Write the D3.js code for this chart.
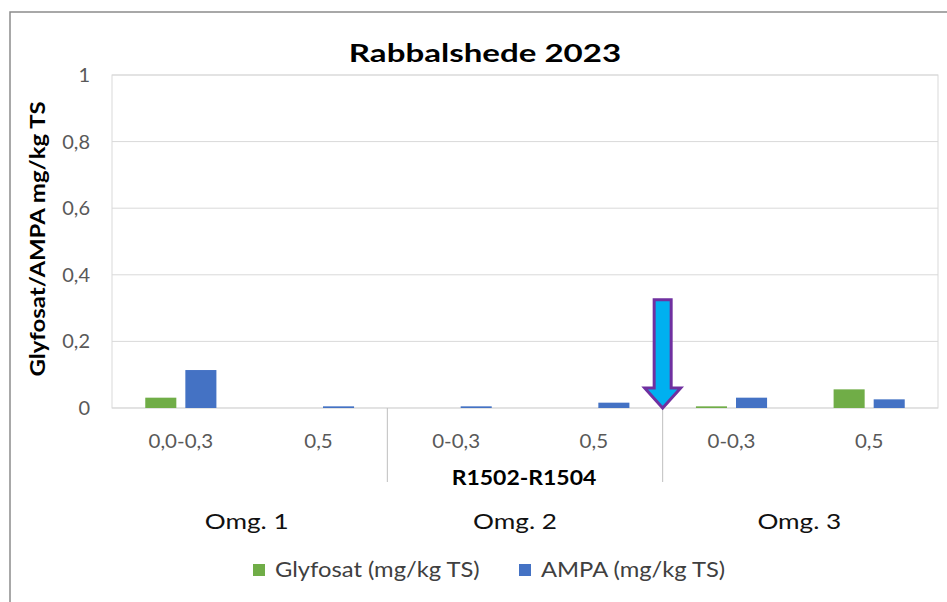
<!DOCTYPE html>
<html>
<head>
<meta charset="utf-8">
<script src="https://cdn.jsdelivr.net/npm/d3@7"></script>
<style>
  html, body { margin: 0; padding: 0; background: #fff; }
  svg { display: block; font-family: Lato, "Open Sans", sans-serif; }
</style>
</head>
<body>
<svg id="chart" width="947" height="602"></svg>
<script>
// data
const categories = ["0,0-0,3", "0,5", "0-0,3", "0,5", "0-0,3", "0,5"];
const groups     = ["Omg. 1", "Omg. 2", "Omg. 3"];
const midLabel   = "R1502-R1504";
const series     = ["Glyfosat (mg/kg TS)", "AMPA (mg/kg TS)"];
const glyfosat   = [0.031, 0, 0, 0, 0.005, 0.056];
const ampa       = [0.114, 0.005, 0.005, 0.016, 0.031, 0.026];
const yTicks     = [0, 0.2, 0.4, 0.6, 0.8, 1];
const colors     = ["#70AD47", "#4472C4"];

const svg = d3.select("#chart");
const plot = { left: 112, right: 938, top: 75, bottom: 408 };

// the source picture is a bit wide, so horizontal text gets a small stretch
function label(parent, x, y, str, size, sx, opts = {}) {
  return parent.append("text")
    .attr("transform", `translate(${x},${y}) scale(${sx},1)`)
    .attr("text-anchor", opts.anchor || "middle")
    .attr("font-size", size)
    .attr("font-weight", opts.bold ? "bold" : null)
    .attr("fill", opts.fill || "#000")
    .text(str);
}

// outer frame (cropped on the right and bottom)
svg.append("path")
  .attr("d", "M10,602V12H947")
  .attr("fill", "none").attr("stroke", "#8c8c8c").attr("stroke-width", 1.5);

// 1) scales
const idx = d3.range(categories.length);
const x0 = d3.scaleBand().domain(idx).range([plot.left, plot.right]);
const x1 = d3.scaleBand().domain([0, 1]).range([0, x0.bandwidth()])
  .paddingInner(0.225).paddingOuter(0.83);
const y = d3.scaleLinear().domain([0, 1]).range([plot.bottom, plot.top]);

// 2) grid + plot border
svg.append("g").selectAll("line").data(yTicks).join("line")
  .attr("x1", plot.left).attr("x2", plot.right)
  .attr("y1", d => y(d)).attr("y2", d => y(d))
  .attr("stroke", "#d9d9d9").attr("stroke-width", 1);
svg.append("rect")
  .attr("x", plot.left).attr("y", plot.top)
  .attr("width", plot.right - plot.left).attr("height", plot.bottom - plot.top)
  .attr("fill", "none").attr("stroke", "#d9d9d9");

// y axis labels
const yAxis = d3.axisLeft(y).tickValues(yTicks).tickSize(0).tickPadding(0)
  .tickFormat(d => String(d).replace(".", ","));
svg.append("g").attr("transform", `translate(${plot.left - 22},0)`)
  .call(yAxis)
  .call(g => g.select(".domain").remove())
  .selectAll("text")
    .attr("fill", "#595959").attr("font-size", 20)
    .attr("font-family", "Lato, sans-serif");

// 3) bars
const values = [glyfosat, ampa];
const bars = svg.append("g");
values.forEach((vals, s) => {
  bars.selectAll(null).data(idx).join("rect")
    .attr("x", i => x0(i) + x1(s))
    .attr("width", x1.bandwidth())
    .attr("y", i => y(vals[i]))
    .attr("height", i => y(0) - y(vals[i]))
    .attr("fill", colors[s]);
});

// x axis category labels
const xAxis = d3.axisBottom(x0).tickSize(0).tickPadding(0)
  .tickFormat(i => categories[i]);
svg.append("g").attr("transform", `translate(0,${plot.bottom + 40})`)
  .call(xAxis)
  .call(g => g.select(".domain").remove())
  .selectAll("text")
    .attr("y", 0).attr("dy", 0)
    .attr("transform", "scale(1.08,1)")
    .attr("fill", "#595959").attr("font-size", 19)
    .attr("font-family", "Lato, sans-serif");

// group separators between pairs
const seps = [2, 4];
svg.append("g").selectAll("line").data(seps).join("line")
  .attr("x1", i => x0(i)).attr("x2", i => x0(i))
  .attr("y1", plot.bottom).attr("y2", plot.bottom + 74)
  .attr("stroke", "#bfbfbf").attr("stroke-width", 1);

label(svg, (plot.left + plot.right) / 2 - 1, plot.bottom + 77, midLabel, 20.5, 1.12, { bold: true });

// Omg. labels, roughly under each pair
const labelNudge = [-3, -10, -1];
groups.forEach((name, g) => {
  const cx = (x0(g * 2) + x0(g * 2 + 1) + x0.bandwidth()) / 2 + labelNudge[g];
  label(svg, cx, plot.bottom + 121, name, 22, 1.19, { fill: "#111" });
});

// 4) arrow marking the boundary between Omg. 2 and Omg. 3
const ax = x0(4), tipY = y(0), topY = y(0.325), headY = y(0.06);
svg.append("path")
  .attr("d", `M${ax - 8.5},${topY}H${ax + 8.5}V${headY}H${ax + 18}L${ax},${tipY}L${ax - 18},${headY}H${ax - 8.5}Z`)
  .attr("fill", "#00B0F0").attr("stroke", "#7030A0").attr("stroke-width", 3)
  .attr("stroke-linejoin", "miter");

// title
label(svg, 485, 62, "Rabbalshede 2023", 24.5, 1.35, { bold: true });

// y axis title
svg.append("text")
  .attr("transform", "translate(45,239) rotate(-90) scale(1.14,1)")
  .attr("text-anchor", "middle").attr("font-size", 21).attr("font-weight", "bold")
  .attr("fill", "#000").text("Glyfosat/AMPA mg/kg TS");

// 5) legend
const legend = svg.append("g").attr("transform", "translate(253,577)");
const legendX = [0, 266];
series.forEach((name, s) => {
  const item = legend.append("g").attr("transform", `translate(${legendX[s]},0)`);
  item.append("rect").attr("x", 0).attr("y", -13).attr("width", 12).attr("height", 12)
    .attr("fill", colors[s]);
  label(item, 22, 0, name, 22, 1.08, { anchor: "start", fill: "#404040" });
});
</script>
</body>
</html>
